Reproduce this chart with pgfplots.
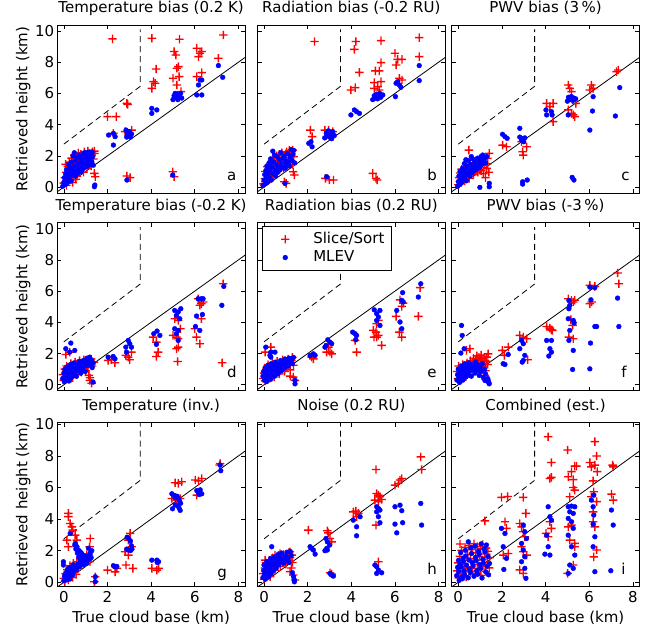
\documentclass[border=0pt]{standalone}
\usepackage{pgfplots}
\pgfplotsset{compat=1.18}
\usepackage{fontspec}
\setmainfont{DejaVu Sans}
\newcommand\F{\fontsize{15}{18}\selectfont}
\pgfdeclareplotmark{xcross}{%
 \pgfpathmoveto{\pgfqpoint{-\pgfplotmarksize}{-0.7pt}}%
 \pgfpathlineto{\pgfqpoint{-0.7pt}{-0.7pt}}%
 \pgfpathlineto{\pgfqpoint{-0.7pt}{-\pgfplotmarksize}}%
 \pgfpathlineto{\pgfqpoint{0.7pt}{-\pgfplotmarksize}}%
 \pgfpathlineto{\pgfqpoint{0.7pt}{-0.7pt}}%
 \pgfpathlineto{\pgfqpoint{\pgfplotmarksize}{-0.7pt}}%
 \pgfpathlineto{\pgfqpoint{\pgfplotmarksize}{0.7pt}}%
 \pgfpathlineto{\pgfqpoint{0.7pt}{0.7pt}}%
 \pgfpathlineto{\pgfqpoint{0.7pt}{\pgfplotmarksize}}%
 \pgfpathlineto{\pgfqpoint{-0.7pt}{\pgfplotmarksize}}%
 \pgfpathlineto{\pgfqpoint{-0.7pt}{0.7pt}}%
 \pgfpathlineto{\pgfqpoint{-\pgfplotmarksize}{0.7pt}}%
 \pgfpathclose
 \pgfusepathqfill}
\pgfplotsset{
 panel/.style={
  scale only axis, width=187.7pt,
  xmin=-0.3, xmax=8.3,
  xtick={0,2,4,6,8}, ytick={0,2,4,6,8,10},
  tick align=inside, tick pos=both,
  major tick length=4pt,
  every tick/.append style={black, line width=0.6pt},
  axis line style={black, line width=0.8pt},
  /pgf/number format/assume math mode=true,
  tick label style={font=\F},
  label style={font=\F},
  title style={font=\F, at={(0.5,1)}, anchor=base, yshift=6.7pt, inner sep=0pt},
  xticklabel style={anchor=base, yshift=-15.8pt, inner sep=0pt},
  yticklabel style={anchor=east, xshift=-3pt, inner sep=0pt},
  ylabel style={at={(axis description cs:-0.159,0.5)}, anchor=base, inner sep=0pt},
  xlabel style={at={(axis description cs:0.5,0)}, anchor=base, yshift=-35.8pt, inner sep=0pt},
 },
 rowA/.style={height=168pt, ymin=-0.38, ymax=10.38},
 rowC/.style={height=163.5pt, ymin=-0.25, ymax=10.1},
 sli/.style={mark=xcross, draw=none, mark size=4.2pt, mark options={fill=red, draw=none, solid},
   legend image code/.code={\path (-16pt,-5pt) rectangle (28pt,5pt); \draw[##1] plot coordinates {(0pt,0pt)};}},
 mle/.style={mark=*, draw=none, mark size=2.4pt, mark options={draw=blue, fill=blue, solid},
   legend image code/.code={\path (-16pt,-5pt) rectangle (28pt,5pt); \draw[##1] plot coordinates {(0pt,0pt)};}},
 diag/.style={black, line width=0.8pt, forget plot, no markers},
 dsh/.style={black, line width=0.8pt, dash pattern=on 6pt off 4pt, forget plot, no markers},
}
\newcommand\refl{%
 \addplot[diag] coordinates {(-0.5,-0.5) (8.5,8.5)};
 \addplot[dsh] coordinates {(0,2.75) (3.5,6.45) (3.5,10.1)};
}
\begin{document}
\begin{tikzpicture}
\useasboundingbox (0,0) rectangle (646pt,-629pt);
% ---------------- a
\begin{axis}[panel,rowA,at={(57.3pt,-25pt)},anchor=north west,
 title={Temperature bias (0.2 K)}, ylabel={Retrieved height (km)}, xticklabels={}]
\addplot[sli] table {
x y
2.23 9.49
4.03 9.53
5.30 9.47
7.31 9.74
5.05 8.68
5.13 8.46
6.09 8.89
6.24 8.57
6.32 8.68
6.17 8.35
7.08 8.25
4.23 7.56
5.18 7.61
5.25 7.71
5.28 7.07
5.00 6.97
4.11 6.75
4.03 6.32
4.18 6.65
6.09 7.07
6.32 7.33
5.37 6.11
5.18 6.54
2.00 4.51
2.40 4.51
2.89 5.36
2.92 5.30
2.27 3.44
2.81 3.55
3.11 3.65
3.00 3.45
1.40 0.88
1.44 0.66
2.89 0.71
3.04 0.60
4.99 0.98
5.05 0.66
1.28 2.05
1.40 2.15
0.00 0.25
0.05 0.60
0.08 1.45
0.10 0.95
0.15 0.35
0.18 1.30
0.22 0.70
0.25 1.60
0.28 1.10
0.32 0.45
0.35 1.85
0.38 1.35
0.42 0.80
0.45 1.55
0.48 2.05
0.52 1.05
0.55 1.75
0.60 0.70
0.62 1.40
0.66 2.20
0.70 1.00
0.74 1.70
0.78 2.10
0.82 1.25
0.86 1.90
0.90 0.95
0.94 2.25
0.98 1.45
1.02 2.00
1.06 1.20
1.10 2.30
1.15 1.60
1.20 2.10
1.25 1.35
1.30 2.25
1.35 1.80
1.40 2.30
0.12 0.10
0.40 0.30
0.55 0.50
};
\addplot[mle] table {
x y
7.08 7.78
7.28 7.03
6.17 6.54
6.24 6.86
6.32 6.86
6.09 5.90
6.32 5.90
5.00 5.60
5.05 5.85
5.10 6.00
5.15 5.75
5.20 5.95
5.25 5.70
5.30 5.85
5.35 6.00
5.40 5.70
5.22 5.60
4.03 5.04
4.26 4.94
4.03 4.72
2.05 3.33
2.27 3.44
2.35 3.23
2.27 2.69
2.85 3.65
2.90 3.45
2.95 3.30
3.00 3.55
3.05 3.20
2.88 3.20
3.10 3.40
1.42 0.13
1.40 0.02
2.89 0.45
4.99 0.77
-0.05 0.05
0.00 0.30
0.02 0.60
0.05 0.15
0.08 0.85
0.10 0.40
0.12 1.10
0.15 0.25
0.18 0.70
0.20 1.00
0.22 1.45
0.25 0.50
0.28 0.85
0.30 1.25
0.33 0.40
0.35 1.60
0.38 0.75
0.40 1.10
0.42 2.00
0.45 0.90
0.48 2.20
0.50 1.35
0.52 0.70
0.55 1.70
0.58 1.05
0.60 1.90
0.62 0.85
0.65 1.40
0.68 1.15
0.70 2.05
0.72 0.95
0.75 1.55
0.78 1.25
0.80 1.80
0.82 1.05
0.85 2.10
0.88 1.40
0.90 1.20
0.92 1.70
0.95 2.20
0.98 1.50
1.00 1.30
1.02 1.90
1.05 2.20
1.08 1.55
1.10 1.35
1.12 2.00
1.15 1.70
1.18 2.25
1.20 1.45
1.22 1.85
1.25 2.10
1.28 1.60
1.30 2.25
1.32 1.95
1.35 1.40
};
\refl
\node[font=\F, anchor=base west, inner sep=0pt] at (axis cs:7.47,0.45) {a};
\end{axis}
% ---------------- b
\begin{axis}[panel,rowA,at={(257.5pt,-25pt)},anchor=north west,
 title={Radiation bias (-0.2 RU)}, xticklabels={}, yticklabels={}]
\addplot[sli] table {
x y
2.31 9.32
4.21 9.32
4.14 8.82
5.36 9.38
7.11 9.57
7.11 8.35
6.00 8.57
6.12 8.18
6.32 8.18
6.05 7.82
5.36 7.97
5.10 7.44
5.28 7.44
4.37 7.35
5.05 6.69
5.36 6.75
5.21 6.43
5.05 6.32
5.28 6.22
3.98 6.22
4.18 6.37
6.20 6.97
6.32 6.86
2.12 3.65
2.20 3.23
2.79 3.65
2.96 3.65
3.15 3.55
1.34 0.98
1.39 0.77
0.93 0.34
1.01 0.24
2.81 0.56
2.99 0.45
3.18 0.45
4.98 0.88
5.13 0.56
5.18 0.45
1.31 2.37
1.24 2.05
-0.02 0.20
0.04 0.55
0.06 1.00
0.12 0.35
0.15 1.30
0.20 0.80
0.24 1.41
0.28 0.55
0.32 1.15
0.36 1.65
0.40 0.70
0.44 1.90
0.47 1.73
0.50 1.25
0.55 0.90
0.58 2.00
0.62 1.50
0.66 1.10
0.70 2.10
0.74 1.60
0.78 1.30
0.82 2.20
0.86 1.75
0.90 1.20
0.95 2.05
1.00 1.55
1.04 2.25
1.08 1.35
1.12 1.90
1.16 2.35
1.20 1.60
1.26 2.15
1.30 1.45
1.36 1.95
0.06 0.34
};
\addplot[mle] table {
x y
7.11 7.78
7.11 6.82
6.02 5.79
6.20 6.54
6.27 6.39
6.12 6.75
6.05 6.65
4.98 5.60
5.05 5.85
5.10 5.70
5.15 5.95
5.20 5.65
5.25 5.80
5.30 6.00
5.35 5.75
5.44 5.90
3.98 4.62
4.14 4.94
4.24 4.83
4.37 4.72
2.05 2.80
2.15 2.90
2.20 2.58
2.78 3.15
2.85 3.45
2.90 3.30
2.95 3.60
3.00 3.20
3.05 3.40
3.10 3.10
3.15 3.55
3.22 3.30
2.87 0.66
0.96 0.24
-0.05 0.10
0.00 0.45
0.03 0.80
0.05 0.20
0.08 1.05
0.10 0.55
0.13 1.35
0.15 0.30
0.18 0.85
0.20 1.20
0.23 1.55
0.25 0.60
0.28 1.00
0.30 1.80
0.33 0.45
0.36 1.30
0.40 2.30
0.42 0.85
0.45 1.60
0.48 2.05
0.50 1.10
0.53 0.70
0.56 1.45
0.60 1.95
0.63 0.95
0.66 1.30
0.70 1.75
0.73 1.10
0.76 2.20
0.80 1.50
0.83 1.25
0.86 1.85
0.90 1.40
0.93 2.00
0.96 1.20
1.00 1.70
1.04 1.45
1.08 2.15
1.12 1.60
1.16 1.35
1.20 1.90
1.24 2.40
1.28 1.70
1.32 2.10
1.36 2.35
1.40 1.55
};
\refl
\node[font=\F, anchor=base west, inner sep=0pt] at (axis cs:7.47,0.45) {b};
\end{axis}
% ---------------- c
\begin{axis}[panel,rowA,at={(451.7pt,-25pt)},anchor=north west,
 title={PWV bias (3\,\%)}, xticklabels={}, yticklabels={}]
\addplot[sli] table {
x y
7.25 7.39
7.33 7.50
5.04 6.54
5.11 6.32
5.19 6.11
6.10 6.54
6.18 6.32
6.03 6.22
4.05 5.36
4.35 5.36
4.20 5.15
4.35 4.19
5.04 4.94
5.19 4.72
5.27 4.62
5.34 4.51
5.39 5.36
2.03 2.69
2.21 2.58
2.90 2.90
3.13 2.58
2.95 2.26
2.98 2.05
0.49 2.37
1.42 2.16
1.34 1.84
0.00 0.15
0.04 0.60
0.08 0.90
0.12 0.30
0.15 1.15
0.20 0.55
0.25 0.85
0.30 0.40
0.35 1.30
0.40 0.70
0.45 1.05
0.50 0.55
0.55 1.45
0.60 0.90
0.65 1.20
0.70 0.80
0.75 1.55
0.80 1.05
0.85 1.35
0.90 0.95
0.95 1.70
1.00 1.25
1.05 1.05
1.10 1.60
1.15 0.85
1.20 1.40
1.25 0.60
1.30 1.20
1.35 1.50
1.40 0.95
};
\addplot[mle] table {
x y
7.40 6.37
7.20 4.55
6.03 3.65
6.18 5.79
6.15 4.87
5.00 5.50
5.05 5.75
5.10 5.60
5.18 5.80
5.25 5.55
5.30 5.70
5.38 5.65
5.04 4.62
4.02 4.94
4.05 4.62
4.27 4.83
4.30 4.62
2.82 3.76
2.03 3.38
2.14 3.23
2.24 3.12
2.82 3.20
2.90 3.00
2.95 3.10
3.00 2.90
3.05 3.15
2.95 0.34
3.16 0.45
2.95 0.19
5.22 0.62
5.30 0.45
0.99 -0.02
1.42 0.24
1.42 0.02
-0.03 0.05
0.00 0.35
0.03 0.70
0.06 0.15
0.08 1.00
0.10 0.45
0.14 0.25
0.16 0.80
0.19 1.20
0.22 0.50
0.25 0.95
0.28 1.50
0.31 0.65
0.34 1.10
0.37 0.40
0.40 1.35
0.43 0.85
0.46 1.70
0.50 1.05
0.53 0.70
0.56 1.45
0.60 1.20
0.63 0.90
0.66 1.80
0.70 1.30
0.73 1.05
0.76 1.60
0.80 1.40
0.84 1.15
0.88 1.85
0.92 1.50
0.96 1.25
1.00 1.70
1.04 1.95
1.08 1.45
1.12 2.05
1.16 1.65
1.20 1.80
1.25 1.55
1.30 1.95
0.35 1.75
0.60 1.95
};
\refl
\node[font=\F, anchor=base west, inner sep=0pt] at (axis cs:7.47,0.45) {c};
\end{axis}
% ---------------- d
\begin{axis}[panel,rowA,at={(57.3pt,-222.7pt)},anchor=north west,
 title={Temperature bias (-0.2 K)}, ylabel={Retrieved height (km)}, xticklabels={}]
\addplot[sli] table {
x y
7.30 6.47
7.25 1.41
6.15 5.51
6.30 5.19
6.38 5.30
6.23 5.09
6.30 4.23
6.00 3.59
6.08 3.05
6.23 2.63
5.08 4.23
5.24 4.12
5.34 3.59
5.00 3.16
5.16 3.05
5.24 2.95
5.24 2.41
5.16 2.31
5.21 1.49
4.09 3.05
4.24 2.73
4.32 2.09
4.24 1.81
2.84 1.88
2.95 1.77
3.10 2.09
3.02 1.60
2.03 1.56
2.34 1.41
2.18 1.60
0.09 1.94
0.27 2.09
1.19 0.28
1.27 0.10
-0.05 0.65
0.00 0.30
0.04 1.00
0.08 0.50
0.12 1.20
0.16 0.80
0.20 0.35
0.24 1.05
0.28 0.60
0.32 1.35
0.36 0.90
0.40 0.45
0.44 1.15
0.48 0.75
0.52 1.45
0.56 1.00
0.60 0.65
0.64 1.30
0.68 0.95
0.72 1.55
0.76 1.15
0.80 0.80
0.84 1.40
0.88 1.05
0.92 1.60
0.96 1.25
1.00 0.90
1.05 1.50
1.10 1.10
1.15 0.60
1.20 1.40
1.25 1.65
1.30 1.20
1.38 1.45
1.20 0.45
};
\addplot[mle] table {
x y
7.33 6.30
7.24 5.09
6.15 5.51
6.30 5.51
6.38 5.51
6.08 4.40
6.35 4.50
6.03 3.73
6.23 3.48
5.08 4.76
5.24 4.66
5.36 4.87
5.16 4.44
5.31 4.23
5.08 3.59
5.24 3.48
5.16 3.27
5.24 2.84
4.12 3.27
4.27 3.44
4.40 3.16
4.24 2.59
2.84 2.41
2.95 2.84
3.02 2.63
2.87 2.09
3.10 2.41
2.03 1.77
2.26 1.81
2.34 1.66
0.32 2.67
0.50 2.20
0.27 2.09
0.09 2.31
1.34 0.17
-0.05 0.40
0.00 0.75
0.02 0.20
0.05 1.00
0.08 0.55
0.10 0.30
0.13 0.85
0.16 1.15
0.19 0.50
0.22 0.95
0.25 0.25
0.28 0.70
0.31 1.30
0.34 0.45
0.37 0.90
0.40 1.10
0.44 0.60
0.47 1.40
0.50 0.80
0.54 1.05
0.58 0.55
0.62 1.25
0.66 0.90
0.70 1.50
0.74 1.10
0.78 0.75
0.82 1.35
0.86 1.00
0.90 1.55
0.94 1.20
0.98 0.85
1.02 1.45
1.06 1.70
1.10 1.25
1.14 1.55
1.18 1.77
1.22 1.35
1.26 1.60
1.30 1.10
1.35 1.40
};
\refl
\node[font=\F, anchor=base west, inner sep=0pt] at (axis cs:7.47,0.49) {d};
\end{axis}
% ---------------- e
\begin{axis}[panel,rowA,at={(257.5pt,-222.7pt)},anchor=north west,
 title={Radiation bias (0.2 RU)}, xticklabels={}, yticklabels={},
 legend cell align=left,
 legend style={at={(0,1)}, anchor=north west, xshift=4.5pt, yshift=-3.3pt,
   draw=black, line width=0.5pt, fill=white, inner xsep=7pt, inner ysep=6pt,
   row sep=4.3pt, font=\F, nodes={draw=none, inner sep=0pt, text height=11pt, text depth=3pt}}]
\addplot[sli] table {
x y
7.15 6.22
7.07 4.38
6.05 4.38
6.31 5.02
6.38 5.23
6.23 5.44
6.20 3.37
6.31 3.05
5.01 3.48
5.13 3.37
5.24 3.16
5.16 3.05
5.39 2.52
5.04 3.05
5.24 4.12
5.16 3.91
4.17 2.84
4.24 2.09
2.95 2.41
3.10 1.98
3.02 2.09
2.87 2.09
2.18 1.77
2.26 1.66
0.31 2.41
0.05 2.09
1.42 0.28
1.34 0.49
-0.04 0.40
0.00 0.75
0.05 0.25
0.10 1.00
0.14 0.55
0.18 1.30
0.22 0.85
0.26 0.40
0.30 1.10
0.34 0.70
0.38 1.40
0.42 0.95
0.46 0.50
0.50 1.25
0.55 0.80
0.60 1.50
0.65 1.05
0.70 0.70
0.75 1.35
0.80 1.00
0.85 1.60
0.90 1.20
0.95 0.85
1.00 1.45
1.05 1.10
1.10 1.65
1.15 1.30
1.20 0.95
1.25 1.55
1.30 1.75
1.35 1.25
1.20 0.55
};
\addlegendentry{Slice/Sort}
\addplot[mle] table {
x y
7.18 6.47
7.07 5.62
6.35 5.90
6.31 5.41
6.38 5.30
6.08 4.76
6.23 4.02
6.31 3.59
5.05 4.80
5.16 4.55
5.24 4.34
5.16 4.12
5.31 4.76
5.31 3.80
4.06 3.37
4.17 3.27
4.24 3.16
4.20 2.88
2.92 2.88
3.02 2.73
3.10 2.63
2.84 2.52
2.79 2.41
2.11 1.88
2.26 1.98
2.34 1.88
0.08 2.41
0.31 2.09
0.27 1.88
0.50 2.09
0.31 1.77
1.42 0.28
1.42 0.06
-0.05 0.55
-0.02 0.85
0.02 0.30
0.05 1.10
0.08 0.60
0.12 0.20
0.15 0.90
0.18 1.25
0.21 0.45
0.24 0.75
0.27 1.05
0.30 0.35
0.33 1.35
0.36 0.65
0.40 0.95
0.44 1.20
0.48 0.55
0.52 1.45
0.56 0.85
0.60 1.10
0.64 0.70
0.68 1.30
0.72 1.00
0.76 1.55
0.80 0.90
0.84 1.20
0.88 1.45
0.92 1.05
0.96 1.65
1.00 1.30
1.05 1.50
1.10 1.20
1.15 1.70
1.20 1.45
1.25 1.60
1.30 1.35
1.35 1.75
};
\addlegendentry{MLEV}
\refl
\node[font=\F, anchor=base west, inner sep=0pt] at (axis cs:7.47,0.49) {e};
\end{axis}
% ---------------- f
\begin{axis}[panel,rowA,at={(451.7pt,-222.7pt)},anchor=north west,
 title={PWV bias (-3\,\%)}, xticklabels={}, yticklabels={}]
\addplot[sli] table {
x y
7.30 7.16
7.36 6.47
6.03 6.37
6.26 6.30
6.03 5.19
6.11 5.30
5.04 5.51
5.19 5.41
5.27 5.30
5.34 5.41
5.16 4.17
5.24 3.80
5.07 3.05
5.27 2.95
4.05 3.73
4.20 3.63
4.27 3.52
4.31 3.48
2.82 3.16
2.98 3.05
3.13 2.95
3.18 1.60
2.02 2.20
2.11 1.88
2.29 2.41
0.38 2.20
0.53 2.31
1.22 1.56
1.30 1.77
1.37 1.98
1.07 1.66
1.22 0.60
-0.05 0.85
-0.02 0.40
0.02 1.20
0.06 0.60
0.10 0.95
0.15 0.35
0.20 1.30
0.25 0.75
0.30 1.05
0.35 0.50
0.40 1.40
0.45 0.95
0.50 1.25
0.55 1.55
0.60 1.10
0.65 1.45
0.70 1.70
0.75 1.30
0.80 1.60
0.85 1.85
0.90 1.40
0.95 1.75
1.00 1.55
1.05 1.90
1.10 1.35
1.15 1.15
1.20 1.75
1.25 0.90
1.30 1.50
1.35 1.30
};
\addplot[mle] table {
x y
7.30 5.55
7.36 3.73
6.03 6.26
6.26 6.22
6.08 5.44
6.26 3.73
6.34 3.73
6.06 2.67
6.03 1.02
5.07 5.40
5.11 5.08
5.07 4.87
5.04 4.23
5.27 4.12
5.31 3.97
5.11 3.48
5.07 2.84
5.27 2.20
5.24 0.98
4.05 2.84
4.27 2.84
4.20 2.31
4.15 1.84
4.27 2.09
2.90 2.84
2.98 2.63
2.82 2.31
3.05 1.88
2.93 1.45
2.98 1.56
2.29 1.94
2.06 1.35
2.14 1.30
0.15 3.80
0.18 3.16
0.27 2.31
0.12 2.03
1.37 0.28
1.42 0.06
1.22 0.28
-0.06 0.30
-0.03 0.65
0.00 1.00
0.03 0.45
0.06 0.15
0.09 0.80
0.12 1.20
0.15 0.55
0.18 0.95
0.21 0.30
0.24 1.10
0.27 0.70
0.30 1.35
0.33 0.50
0.36 0.90
0.40 1.15
0.44 0.65
0.48 1.40
0.52 0.85
0.56 1.10
0.60 0.55
0.64 1.30
0.68 0.95
0.72 1.20
0.76 0.75
0.80 1.45
0.84 1.05
0.88 0.90
0.92 1.25
0.96 0.60
1.00 1.10
1.05 0.85
1.10 1.35
1.15 0.45
1.20 1.00
1.25 0.70
1.30 0.25
1.35 0.40
1.40 0.15
};
\refl
\node[font=\F, anchor=base west, inner sep=0pt] at (axis cs:7.47,0.49) {f};
\end{axis}
% ---------------- g
\begin{axis}[panel,rowC,at={(57.3pt,-422.7pt)},anchor=north west,
 title={Temperature (inv.)}, ylabel={Retrieved height (km)}, xlabel={True cloud base (km)}]
\addplot[sli] table {
x y
0.21 4.36
0.21 4.15
0.29 3.72
0.37 3.51
0.41 3.30
0.14 2.67
0.21 2.25
0.52 2.98
0.60 2.67
1.21 2.77
1.18 2.25
2.85 1.09
3.16 0.88
2.81 1.93
2.96 1.72
3.11 2.25
2.96 2.67
3.04 3.09
2.00 0.77
2.35 0.66
2.43 0.88
4.03 0.88
4.26 0.77
4.34 0.88
1.44 0.35
1.40 0.03
5.10 6.30
5.25 6.26
5.40 6.36
4.95 5.30
5.18 5.20
5.33 5.30
6.02 6.47
6.17 6.42
6.32 6.57
6.09 5.52
7.16 7.52
7.13 7.42
0.00 0.25
0.05 0.05
0.08 0.55
0.12 0.35
0.16 0.80
0.20 0.15
0.24 0.60
0.28 1.05
0.32 0.45
0.36 0.90
0.40 0.30
0.44 1.20
0.48 0.70
0.52 1.00
0.56 0.50
0.60 1.30
0.65 0.85
0.70 1.15
0.75 1.45
0.80 1.05
0.85 1.35
0.90 1.60
0.95 1.25
1.00 1.50
1.05 1.75
1.10 1.40
1.15 1.65
1.20 1.30
};
\addplot[mle] table {
x y
7.16 7.42
7.19 7.06
4.95 5.60
5.05 5.50
5.10 5.35
5.18 5.45
5.25 5.30
5.30 5.15
5.35 5.00
5.20 4.85
5.28 4.70
5.10 4.90
4.98 4.65
5.33 4.55
6.09 5.80
6.17 5.70
6.25 5.85
6.32 5.60
6.20 5.55
2.90 2.85
2.98 2.75
3.05 2.60
3.10 2.30
3.05 2.00
2.95 2.05
3.12 2.10
2.88 2.10
4.03 1.40
4.26 1.40
4.34 1.30
4.28 1.25
2.27 1.05
2.35 0.98
2.43 1.00
1.44 0.35
1.44 0.03
-0.02 1.30
-0.02 1.09
0.29 3.09
0.52 2.46
0.60 2.25
0.67 2.04
0.75 1.93
0.82 1.82
0.98 1.61
1.05 1.40
1.13 2.15
1.20 1.85
0.00 0.10
0.03 0.40
0.06 0.25
0.09 0.60
0.12 0.15
0.15 0.50
0.18 0.85
0.21 0.35
0.24 0.70
0.27 0.20
0.30 0.95
0.33 0.55
0.36 0.80
0.40 0.45
0.43 1.10
0.46 0.70
0.50 2.35
0.52 0.95
0.55 2.10
0.58 0.80
0.62 1.85
0.65 1.15
0.68 1.60
0.72 1.00
0.76 1.40
0.80 1.25
0.84 1.55
0.88 1.10
0.92 1.70
0.96 1.35
1.00 1.50
1.05 1.20
1.10 1.65
1.15 1.45
1.20 1.75
1.25 1.55
1.28 2.00
};
\refl
\node[font=\F, anchor=base west, inner sep=0pt] at (axis cs:7.03,0.32) {g};
\end{axis}
% ---------------- h
\begin{axis}[panel,rowC,at={(257.5pt,-422.7pt)},anchor=north west,
 title={Noise (0.2 RU)}, xlabel={True cloud base (km)}, yticklabels={}]
\addplot[sli] table {
x y
7.18 7.94
7.22 7.14
5.13 7.14
6.00 6.15
6.15 6.25
6.23 6.47
6.31 6.57
5.16 5.62
5.24 5.52
5.31 5.41
5.39 5.24
5.08 5.20
5.24 5.10
5.13 3.62
5.24 1.30
4.09 4.46
4.21 4.50
4.32 4.36
4.24 4.15
2.03 3.30
2.90 3.26
2.95 3.13
3.02 2.77
3.10 2.56
3.02 0.60
3.10 0.52
0.05 1.40
0.09 1.05
0.50 1.72
0.73 1.82
1.19 1.93
1.27 1.72
1.19 0.67
1.34 0.46
1.42 0.14
-0.04 0.55
0.00 0.20
0.04 0.90
0.08 1.25
0.12 0.45
0.16 1.05
0.20 0.70
0.24 1.40
0.28 0.35
0.32 1.20
0.36 0.85
0.40 1.55
0.45 1.10
0.50 0.75
0.55 1.45
0.60 1.15
0.65 1.70
0.70 1.35
0.75 1.00
0.80 1.60
0.85 1.30
0.90 1.75
0.95 1.45
1.00 1.15
1.05 1.65
1.10 1.40
1.15 1.90
1.20 1.55
1.25 0.90
1.30 1.25
};
\addplot[mle] table {
x y
7.18 4.99
7.22 3.62
6.00 4.78
6.23 4.88
6.31 4.53
6.00 3.68
6.08 3.13
6.35 3.77
5.16 4.78
5.24 4.67
5.31 4.57
5.16 4.46
5.24 4.15
5.31 3.77
4.09 3.93
4.24 3.51
4.24 2.94
4.40 4.15
2.84 2.77
2.90 2.56
3.00 2.35
2.90 2.04
2.79 2.00
2.87 2.14
2.18 2.14
2.26 2.04
2.34 1.78
2.11 2.25
5.08 1.09
5.16 0.98
5.24 0.77
5.16 0.56
5.39 0.60
3.02 0.56
3.10 0.46
3.18 0.39
0.35 2.25
1.39 0.14
1.39 0.03
-0.05 0.30
-0.02 0.75
0.00 1.10
0.03 0.50
0.06 0.20
0.09 0.90
0.12 1.30
0.15 0.60
0.18 1.00
0.21 0.35
0.24 1.20
0.27 0.80
0.30 1.50
0.33 0.55
0.36 1.05
0.40 1.35
0.44 0.75
0.48 1.60
0.52 1.15
0.56 0.90
0.60 1.40
0.64 1.75
0.68 1.10
0.72 1.55
0.76 1.30
0.80 1.85
0.85 1.45
0.90 1.20
0.95 1.65
1.00 1.40
1.05 1.90
1.10 1.55
1.15 1.25
1.20 1.95
1.25 1.70
1.30 0.60
1.35 0.35
};
\refl
\node[font=\F, anchor=base west, inner sep=0pt] at (axis cs:7.47,0.5) {h};
\end{axis}
% ---------------- i
\begin{axis}[panel,rowC,at={(451.7pt,-422.7pt)},anchor=north west,
 title={Combined (est.)}, xlabel={True cloud base (km)}, yticklabels={}]
\addplot[sli] table {
x y
4.12 9.21
6.26 8.90
5.01 8.37
6.34 7.99
4.27 7.58
4.20 6.57
4.27 6.64
5.34 7.35
5.42 7.35
5.04 6.68
5.19 7.00
5.27 6.50
6.03 7.58
6.10 7.30
6.26 7.41
6.37 7.00
7.07 7.41
7.10 7.30
6.18 6.42
6.21 5.73
6.10 5.41
6.34 5.10
6.18 4.46
7.02 5.58
7.10 5.20
5.27 6.00
5.34 5.83
5.11 5.41
5.04 3.51
5.19 3.62
5.11 2.67
5.34 2.46
5.34 2.25
5.27 1.09
6.18 3.83
6.26 3.51
6.34 2.04
6.21 1.61
4.20 3.83
4.27 3.41
4.02 3.09
4.12 2.88
2.98 5.37
3.10 4.36
2.82 3.72
2.90 3.51
2.98 3.20
3.05 2.88
2.90 2.25
2.98 1.93
3.13 1.72
2.82 0.78
2.98 0.56
1.98 5.37
2.26 5.43
1.22 3.89
2.14 3.83
2.21 3.41
2.06 1.72
2.29 1.82
0.08 2.42
5.01 0.56
-0.05 0.72
-0.01 1.23
0.03 0.28
0.07 1.64
0.08 0.93
0.15 2.02
0.14 0.52
0.23 1.38
0.21 0.87
0.31 2.21
0.30 1.12
0.36 0.33
0.43 1.76
0.41 0.98
0.50 2.33
0.55 0.67
0.56 1.48
0.63 2.06
0.64 0.88
0.71 1.31
0.72 2.44
0.79 0.57
0.80 1.86
0.87 1.14
0.88 2.26
0.95 0.79
0.96 1.61
1.03 2.11
1.04 0.44
1.11 1.42
1.12 2.39
1.18 1.02
1.22 1.79
1.26 0.68
1.28 2.16
1.34 1.24
1.36 1.96
1.42 0.91
1.44 1.56
};
\addplot[mle] table {
x y
7.02 4.57
7.10 3.62
6.99 0.73
6.21 5.52
6.10 5.20
6.18 4.78
6.21 4.25
6.18 3.68
6.26 2.88
6.18 2.25
6.26 0.67
5.04 4.78
5.19 4.82
5.34 4.78
5.11 4.46
5.27 4.36
5.04 4.04
5.19 3.83
5.27 3.41
5.04 2.98
5.19 2.25
5.34 1.72
5.11 1.09
5.27 0.88
5.04 0.56
4.12 4.78
4.20 4.15
4.27 3.93
4.05 2.98
4.12 2.25
3.97 1.78
4.20 1.72
2.98 3.62
3.05 3.20
3.13 2.77
2.90 2.46
2.98 2.04
3.05 1.61
2.90 1.30
3.05 0.88
3.10 0.25
1.98 3.41
2.14 3.09
2.06 2.25
2.21 1.51
2.09 0.81
-0.07 0.42
-0.03 0.95
0.01 1.38
0.04 0.12
0.02 0.68
0.09 1.12
0.11 1.88
0.16 0.33
0.13 0.97
0.22 1.52
0.19 0.22
0.27 0.71
0.24 1.33
0.33 2.02
0.29 0.47
0.38 1.08
0.35 1.66
0.46 0.28
0.46 2.56
0.52 0.83
0.49 1.41
0.58 2.17
0.55 0.62
0.64 1.24
0.61 1.82
0.72 0.38
0.68 1.03
0.79 1.58
0.77 2.28
0.85 0.72
0.82 1.37
0.93 1.96
0.89 0.51
0.99 1.13
0.96 1.77
1.05 2.43
1.03 0.88
1.13 1.46
1.09 0.27
1.18 2.12
1.15 1.21
1.26 0.66
1.22 1.92
1.33 1.02
1.29 2.36
1.39 0.47
1.36 1.63
1.43 1.18
};
\refl
\node[font=\F, anchor=base west, inner sep=0pt] at (axis cs:7.47,0.5) {i};
\end{axis}
\end{tikzpicture}
\end{document}
